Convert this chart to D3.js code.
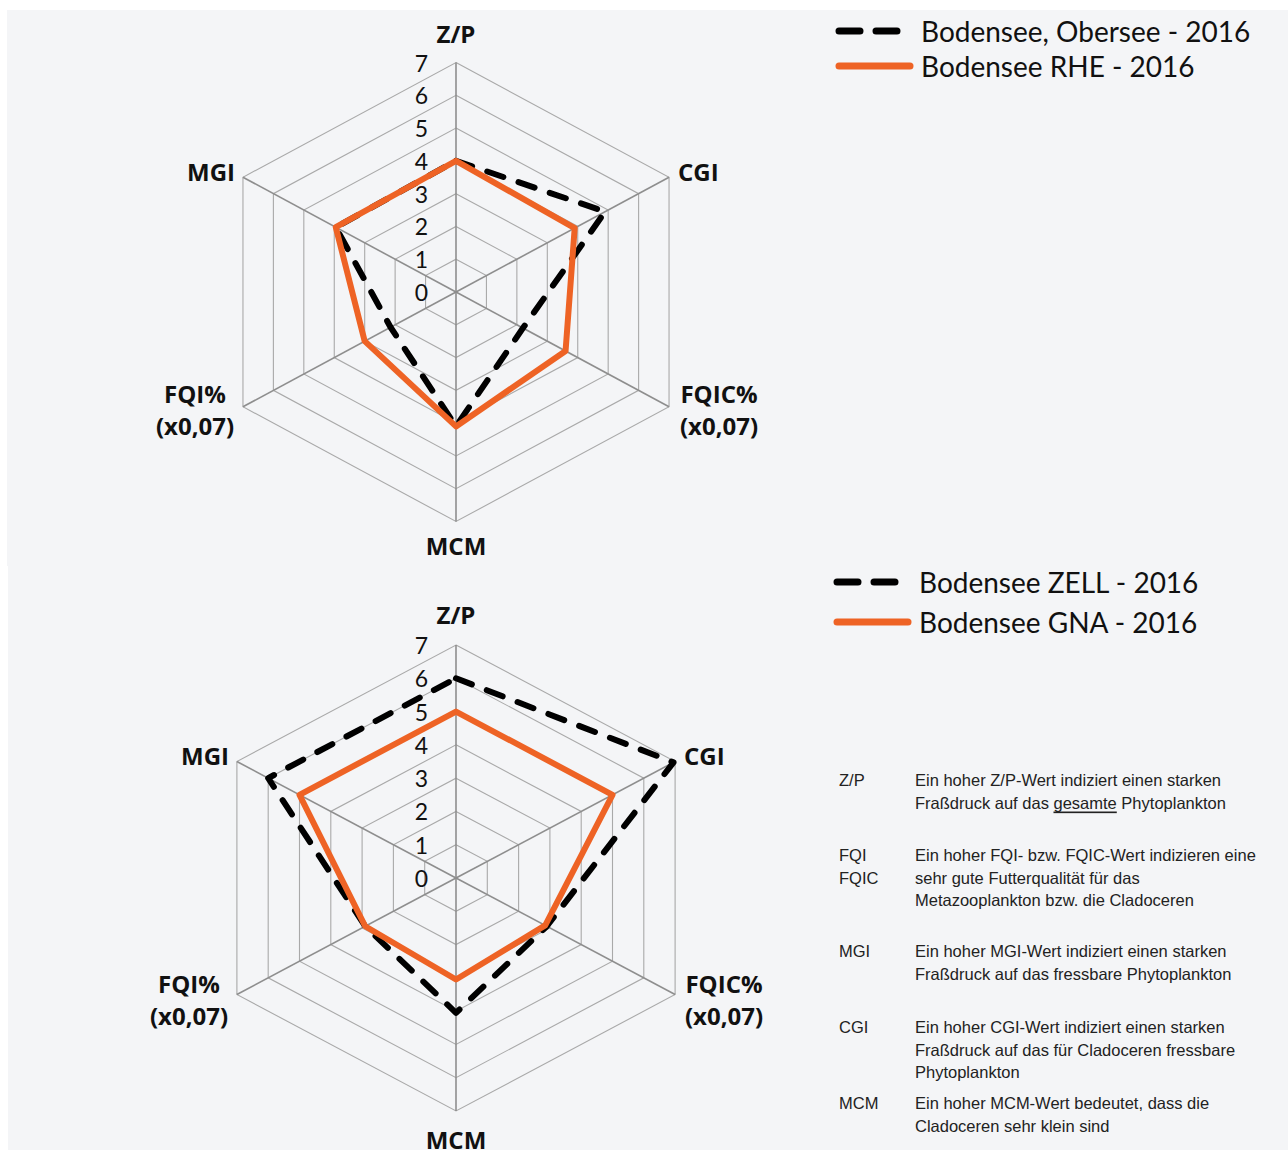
<!DOCTYPE html>
<html>
<head>
<meta charset="utf-8">
<script src="https://cdn.jsdelivr.net/npm/d3@7"></script>
<style>
  html, body { margin: 0; padding: 0; background: #ffffff; }
  svg { display: block; }
</style>
</head>
<body>
<svg id="chart" width="1288" height="1156"></svg>
<script>
// Radar axes, clockwise from the top
const axes = ["Z/P", "CGI", "FQIC%\n(x0,07)", "MCM", "FQI%\n(x0,07)", "MGI"];
const ticks = [0, 1, 2, 3, 4, 5, 6, 7];

// Upper panel series
const oberseeName = "Bodensee, Obersee - 2016";
const oberseeValues = [4.0, 4.9, 2.2, 4.1, 2.15, 3.95];
const rheName = "Bodensee RHE - 2016";
const rheValues = [4.0, 3.9, 3.6, 4.1, 3.0, 3.95];

// Lower panel series
const zellName = "Bodensee ZELL - 2016";
const zellValues = [6.0, 6.95, 2.9, 4.05, 2.9, 6.0];
const gnaName = "Bodensee GNA - 2016";
const gnaValues = [5.0, 5.0, 2.85, 3.05, 2.9, 5.0];

// Index explanations
const noteKeys = [["Z/P"], ["FQI", "FQIC"], ["MGI"], ["CGI"], ["MCM"]];
const noteTexts = [
  [["Ein hoher Z/P-Wert indiziert einen starken"], ["Fraßdruck auf das ", {u: "gesamte"}, " Phytoplankton"]],
  [["Ein hoher FQI- bzw. FQIC-Wert indizieren eine"], ["sehr gute Futterqualität für das"], ["Metazooplankton bzw. die Cladoceren"]],
  [["Ein hoher MGI-Wert indiziert einen starken"], ["Fraßdruck auf das fressbare Phytoplankton"]],
  [["Ein hoher CGI-Wert indiziert einen starken"], ["Fraßdruck auf das für Cladoceren fressbare"], ["Phytoplankton"]],
  [["Ein hoher MCM-Wert bedeutet, dass die"], ["Cladoceren sehr klein sind"]]
];

const ORANGE = "#ee6325";
const svg = d3.select("#chart");

// panel backgrounds
svg.append("rect").attr("x", 7).attr("y", 10).attr("width", 1281).attr("height", 556).attr("fill", "#f4f5f7");
svg.append("rect").attr("x", 8).attr("y", 566).attr("width", 1280).attr("height", 584).attr("fill", "#f4f5f7");

function radar(cfg) {
  const g = svg.append("g");
  const sx = d3.scaleLinear().domain([0, 7]).range([0, cfg.rx]);
  const sy = d3.scaleLinear().domain([0, 7]).range([0, cfg.ry]);
  const ang = i => i * Math.PI / 3;
  const pt = (i, v) => [cfg.cx + sx(v) * Math.sin(ang(i)), cfg.cy - sy(v) * Math.cos(ang(i))];
  const line = d3.line();

  // rings
  ticks.slice(1).forEach(t => {
    g.append("path")
      .attr("d", line(axes.map((a, i) => pt(i, t))) + "Z")
      .attr("fill", "none").attr("stroke", "#a9a9a9").attr("stroke-width", 1.1);
  });
  // spokes
  axes.forEach((a, i) => {
    const p = pt(i, 7);
    g.append("line").attr("x1", cfg.cx).attr("y1", cfg.cy).attr("x2", p[0]).attr("y2", p[1])
      .attr("stroke", "#8e8e8e").attr("stroke-width", 1.6);
  });
  // tick labels
  g.selectAll(".tick").data(ticks).join("text")
    .attr("x", cfg.cx - 28).attr("y", d => cfg.cy - sy(d))
    .attr("text-anchor", "end").attr("dominant-baseline", "central")
    .attr("font-family", "Lato, 'Open Sans', sans-serif").attr("font-size", 23).attr("fill", "#111")
    .text(d => d);

  // series
  cfg.series.forEach(s => {
    g.append("path")
      .attr("d", line(s.values.map((v, i) => pt(i, v))) + "Z")
      .attr("fill", "none").attr("stroke", s.color).attr("stroke-width", 6)
      .attr("stroke-linejoin", "round").attr("stroke-linecap", s.dash ? "round" : "butt")
      .attr("stroke-dasharray", s.dash ? "17,16" : null);
  });

  // axis labels
  axes.forEach((a, i) => {
    const pos = cfg.labels[i];
    const t = g.append("text").attr("x", pos[0]).attr("y", pos[1])
      .attr("text-anchor", pos[2]).attr("font-family", "'Open Sans', Lato, sans-serif")
      .attr("font-weight", "bold").attr("font-size", 24).attr("fill", "#111");
    a.split("\n").forEach((ln, k) => {
      t.append("tspan").attr("x", pos[0]).attr("dy", k === 0 ? 0 : 32).text(ln);
    });
  });

  // legend
  cfg.series.forEach((s, k) => {
    const ly = cfg.legend[1] + k * cfg.legend[2];
    g.append("line").attr("x1", cfg.legend[0] + 3).attr("x2", cfg.legend[0] + 74)
      .attr("y1", ly).attr("y2", ly)
      .attr("stroke", s.color).attr("stroke-width", 7)
      .attr("stroke-linecap", "round").attr("stroke-dasharray", s.dash ? "21,16" : null);
    g.append("text").attr("x", cfg.legend[0] + 85).attr("y", ly)
      .attr("dominant-baseline", "central")
      .attr("font-family", "Lato, 'Open Sans', sans-serif").attr("font-size", 28).attr("fill", "#111")
      .text(s.name);
  });
}

radar({
  cx: 456, cy: 292, rx: 246, ry: 229.5,
  series: [
    {name: oberseeName, values: oberseeValues, color: "#000", dash: true},
    {name: rheName, values: rheValues, color: ORANGE, dash: false}
  ],
  labels: [[456, 43, "middle"], [678, 181, "start"], [719, 403, "middle"], [456, 555, "middle"], [195, 403, "middle"], [235, 181, "end"]],
  legend: [836, 31, 35]
});

radar({
  cx: 456, cy: 878, rx: 253, ry: 233,
  series: [
    {name: zellName, values: zellValues, color: "#000", dash: true},
    {name: gnaName, values: gnaValues, color: ORANGE, dash: false}
  ],
  labels: [[456, 624, "middle"], [684, 765, "start"], [724, 993, "middle"], [456, 1149, "middle"], [189, 993, "middle"], [229, 765, "end"]],
  legend: [834, 582, 40]
});

// index explanations
const noteY = [780, 855, 951, 1027, 1103];
const notes = svg.append("g").attr("font-family", "'Liberation Sans', Arial, sans-serif")
  .attr("font-size", 16.5).attr("fill", "#222");
noteKeys.forEach((keys, i) => {
  keys.forEach((k, j) => {
    notes.append("text").attr("x", 839).attr("y", noteY[i] + j * 22.5)
      .attr("dominant-baseline", "central").text(k);
  });
  noteTexts[i].forEach((parts, j) => {
    const t = notes.append("text").attr("x", 915).attr("y", noteY[i] + j * 22.5)
      .attr("dominant-baseline", "central");
    parts.forEach(p => {
      if (typeof p === "string") t.append("tspan").text(p);
      else t.append("tspan").attr("text-decoration", "underline").text(p.u);
    });
  });
});
</script>
</body>
</html>
